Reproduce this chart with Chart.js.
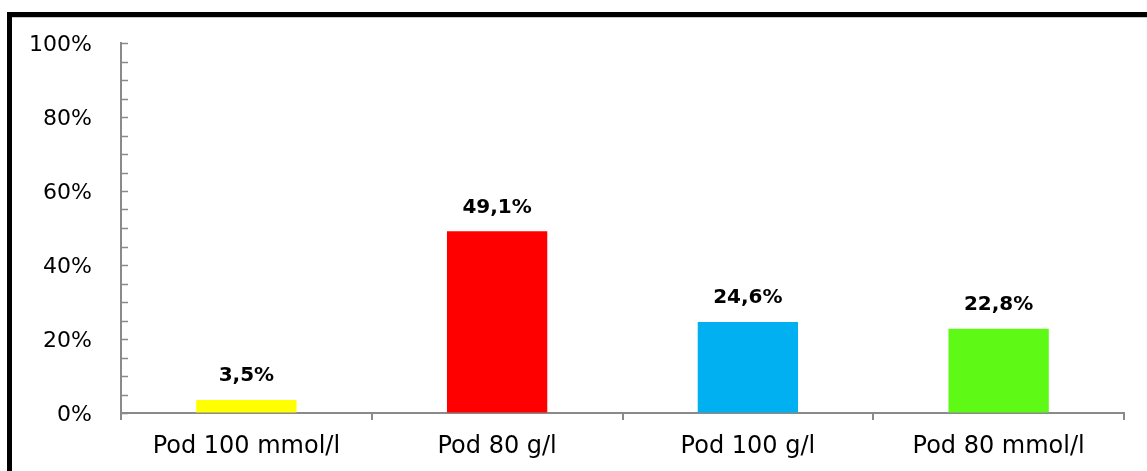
<!DOCTYPE html>
<html>
<head>
<meta charset="utf-8">
<script src="https://cdn.jsdelivr.net/npm/chart.js@4/dist/chart.umd.min.js"></script>
<style>
  html, body { margin: 0; padding: 0; background: #fff; }
  #wrap { position: relative; width: 1147px; height: 471px; overflow: hidden; }
  canvas { display: block; }
</style>
</head>
<body>
<div id="wrap"><canvas id="c" width="1147" height="471"></canvas></div>
<script>
// Categories and shares (percent)
const categories = ['Pod 100 mmol/l', 'Pod 80 g/l', 'Pod 100 g/l', 'Pod 80 mmol/l'];
const shares = [3.5, 49.1, 24.6, 22.8];
const barColors = ['#FFFF00', '#FF0000', '#00B0F0', '#5FF916'];
const yTicks = [0, 20, 40, 60, 80, 100];

const AXIS_GREY = '#8a8a8a';
const FONT = "'DejaVu Sans', Verdana, sans-serif";

const fmt = v => v.toFixed(1).replace('.', ',') + '%';

// Black frame along the top and left edges
const framePlugin = {
  id: 'frame',
  afterDraw(chart) {
    const ctx = chart.ctx;
    ctx.save();
    ctx.fillStyle = '#000';
    ctx.fillRect(7, 12, 1200, 5);
    ctx.fillRect(7, 12, 5, 500);
    ctx.fillStyle = '#c8c8c8';
    ctx.fillRect(12, 17, 1200, 1);
    ctx.restore();
  }
};

// Small tick marks on the inner side of the value axis, every 5%
const innerTicksPlugin = {
  id: 'innerTicks',
  afterDraw(chart) {
    const y = chart.scales.y;
    const ctx = chart.ctx;
    const x0 = y.right;
    ctx.save();
    ctx.strokeStyle = AXIS_GREY;
    ctx.lineWidth = 1.5;
    for (let v = 0; v <= 100; v += 5) {
      const py = Math.round(y.getPixelForValue(v)) + 0.5;
      ctx.beginPath();
      ctx.moveTo(x0, py);
      ctx.lineTo(x0 + 7, py);
      ctx.stroke();
    }
    ctx.restore();
  }
};

// Value labels above each bar
const valueLabelsPlugin = {
  id: 'valueLabels',
  afterDatasetsDraw(chart) {
    const ctx = chart.ctx;
    const meta = chart.getDatasetMeta(0);
    ctx.save();
    ctx.font = 'bold 20px ' + FONT;
    ctx.fillStyle = '#000';
    ctx.textAlign = 'center';
    ctx.textBaseline = 'middle';
    meta.data.forEach((bar, i) => {
      ctx.fillText(fmt(shares[i]), bar.x, bar.y - 24);
    });
    ctx.restore();
  }
};

new Chart(document.getElementById('c'), {
  type: 'bar',
  data: {
    labels: categories,
    datasets: [{
      data: shares,
      backgroundColor: barColors,
      borderWidth: 0,
      categoryPercentage: 1.0,
      barPercentage: 0.4
    }]
  },
  options: {
    responsive: false,
    animation: false,
    devicePixelRatio: 1,
    layout: { padding: { left: 0, right: 23, top: 43, bottom: 0 } },
    plugins: { legend: { display: false }, tooltip: { enabled: false } },
    scales: {
      x: {
        grid: {
          offset: true,
          drawOnChartArea: false,
          drawTicks: true,
          tickLength: 7,
          color: AXIS_GREY,
          lineWidth: 2
        },
        border: { display: true, color: AXIS_GREY, width: 2 },
        ticks: {
          color: '#000',
          font: { family: FONT, size: 24 },
          padding: 12,
          maxRotation: 0
        },
        afterFit(scale) { scale.height = 58; }
      },
      y: {
        min: 0,
        max: 100,
        afterBuildTicks(scale) { scale.ticks = yTicks.map(v => ({ value: v })); },
        grid: { drawOnChartArea: false, drawTicks: false },
        border: { display: true, color: AXIS_GREY, width: 2 },
        ticks: {
          color: '#000',
          font: { family: FONT, size: 22 },
          padding: 29,
          labelOffset: 2,
          callback: v => v + '%'
        },
        afterFit(scale) { scale.width = 121; }
      }
    }
  },
  plugins: [framePlugin, innerTicksPlugin, valueLabelsPlugin]
});
</script>
</body>
</html>
